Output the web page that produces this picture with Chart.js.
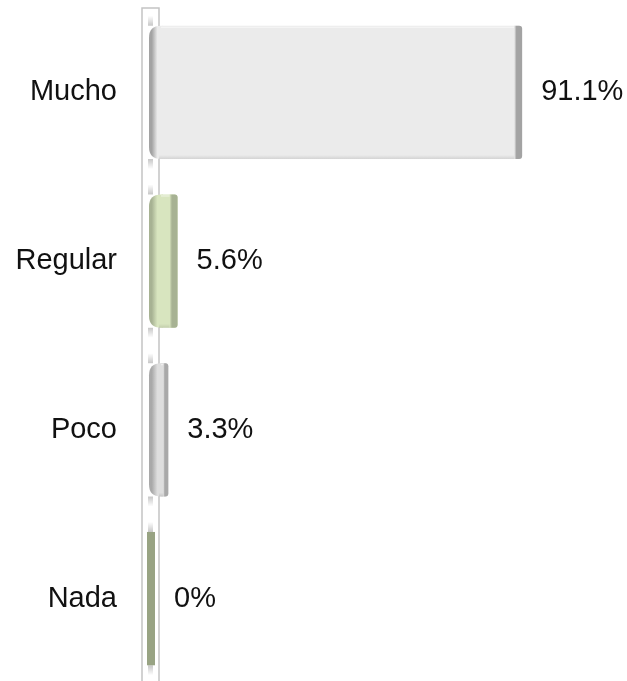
<!DOCTYPE html>
<html>
<head>
<meta charset="utf-8">
<script src="https://cdn.jsdelivr.net/npm/chart.js@4.4.0/dist/chart.umd.min.js"></script>
<style>
  html, body { margin: 0; padding: 0; background: #fff; overflow: hidden; }
  #wrap { width: 627px; height: 683px; }
</style>
</head>
<body>
<div id="wrap"><canvas id="chart" width="627" height="683"></canvas></div>
<script>
// Survey answers and their share of responses (%)
const categories = ["Mucho", "Regular", "Poco", "Nada"];
const percentages = [91.1, 5.6, 3.3, 0];

// Bar face / darker end colours
const faceColors = ["#ebebeb", "#d8e5bf", "#dedede", "#98a383"];
const edgeColors = ["#a3a3a3", "#a7b293", "#a9a9a9", "#98a383"];

const FONT = "'Liberation Sans', Arial, sans-serif";

function roundLeftRect(ctx, x, y, w, h, r) {
  ctx.beginPath();
  ctx.moveTo(x + r, y);
  ctx.lineTo(x + w, y);
  ctx.lineTo(x + w, y + h);
  ctx.lineTo(x + r, y + h);
  ctx.quadraticCurveTo(x, y + h, x, y + h - r);
  ctx.lineTo(x, y + r);
  ctx.quadraticCurveTo(x, y, x + r, y);
  ctx.closePath();
}

function roundRightRect(ctx, x, y, w, h, r) {
  ctx.beginPath();
  ctx.moveTo(x, y);
  ctx.lineTo(x + w - r, y);
  ctx.quadraticCurveTo(x + w, y, x + w, y + r);
  ctx.lineTo(x + w, y + h - r);
  ctx.quadraticCurveTo(x + w, y + h, x + w - r, y + h);
  ctx.lineTo(x, y + h);
  ctx.closePath();
}

// the thin "wall" behind the value axis, plus soft shadows above/below each bar
const wallPlugin = {
  id: "wall",
  beforeDatasetsDraw(chart) {
    const { ctx, chartArea } = chart;
    const x0 = chart.scales.x.getPixelForValue(0);
    const bottom = chart.height;
    ctx.save();
    ctx.strokeStyle = "#c4c4c4";
    ctx.lineWidth = 1.5;
    ctx.beginPath();
    ctx.moveTo(x0 - 13, bottom);
    ctx.lineTo(x0 - 13, chartArea.top);
    ctx.lineTo(x0 + 4, chartArea.top);
    ctx.lineTo(x0 + 4, bottom);
    ctx.stroke();

    chart.getDatasetMeta(0).data.forEach((bar) => {
      const top = bar.y - bar.height / 2;
      const bot = bar.y + bar.height / 2;
      let g = ctx.createLinearGradient(0, top - 10, 0, top);
      g.addColorStop(0, "rgba(0,0,0,0)");
      g.addColorStop(1, "rgba(0,0,0,0.22)");
      ctx.fillStyle = g;
      ctx.fillRect(x0 - 7, top - 10, 5, 10);
      g = ctx.createLinearGradient(0, bot, 0, bot + 10);
      g.addColorStop(0, "rgba(0,0,0,0.22)");
      g.addColorStop(1, "rgba(0,0,0,0)");
      ctx.fillStyle = g;
      ctx.fillRect(x0 - 7, bot, 5, 10);
    });
    ctx.restore();
  },
};

// rounded depth on the left and a darker cap on the right of every bar
const shadePlugin = {
  id: "shade",
  afterDatasetsDraw(chart) {
    const { ctx } = chart;
    ctx.save();
    chart.getDatasetMeta(0).data.forEach((bar, i) => {
      const base = bar.base;
      const w = bar.x - base;
      const h = bar.height;
      const top = bar.y - h / 2;
      const face = faceColors[i];
      const edge = edgeColors[i];

      if (w < 1) {
        ctx.fillStyle = edge;
        ctx.fillRect(base - 8, top, 8, h);
        return;
      }

      // left depth
      const lg = ctx.createLinearGradient(base - 6, 0, base + 8, 0);
      lg.addColorStop(0, edge);
      lg.addColorStop(0.2, edge);
      lg.addColorStop(0.6, face);
      lg.addColorStop(1, face);
      ctx.fillStyle = lg;
      roundLeftRect(ctx, base - 6, top, 14, h, Math.min(12, h / 2));
      ctx.fill();

      // right cap
      const capW = Math.min(8, w * 0.38);
      const rg = ctx.createLinearGradient(bar.x - capW, 0, bar.x, 0);
      rg.addColorStop(0, face);
      rg.addColorStop(0.3, edge);
      rg.addColorStop(1, edge);
      ctx.fillStyle = rg;
      roundRightRect(ctx, bar.x - capW, top, capW, h, 3);
      ctx.fill();

      // soft shading along the lower edge, highlight along the top
      const sg = ctx.createLinearGradient(0, top + h - 4, 0, top + h);
      sg.addColorStop(0, "rgba(0,0,0,0)");
      sg.addColorStop(1, "rgba(0,0,0,0.10)");
      ctx.fillStyle = sg;
      ctx.fillRect(base + 4, top + h - 4, w - capW - 4, 4);
      ctx.fillStyle = "rgba(255,255,255,0.6)";
      ctx.fillRect(base + 6, top + 1, w - capW - 6, 1);
    });
    ctx.restore();
  },
};

// percentage text to the right of each bar
const valueLabelPlugin = {
  id: "valueLabels",
  afterDatasetsDraw(chart) {
    const { ctx } = chart;
    ctx.save();
    ctx.font = `29px ${FONT}`;
    ctx.fillStyle = "#111";
    ctx.textAlign = "left";
    ctx.textBaseline = "middle";
    chart.getDatasetMeta(0).data.forEach((bar, i) => {
      ctx.fillText(`${percentages[i]}%`, bar.x + 19, bar.y);
    });
    ctx.restore();
  },
};

new Chart(document.getElementById("chart"), {
  type: "bar",
  data: {
    labels: categories,
    datasets: [
      {
        data: percentages,
        backgroundColor: faceColors,
        borderSkipped: false,
        borderRadius: { topLeft: 8, bottomLeft: 8, topRight: 3, bottomRight: 3 },
        categoryPercentage: 0.79,
        barPercentage: 1,
      },
    ],
  },
  options: {
    indexAxis: "y",
    responsive: false,
    animation: false,
    layout: { padding: { top: 8, right: 69, bottom: 0, left: 0 } },
    scales: {
      x: { min: 0, max: 100, display: false },
      y: {
        grid: { display: false, drawTicks: false },
        border: { display: false },
        ticks: {
          color: "#111",
          padding: 38,
          font: { family: FONT, size: 29 },
        },
        afterFit: (axis) => {
          axis.width = 155;
          axis.paddingTop = 0;
          axis.paddingBottom = 0;
        },
      },
    },
    plugins: {
      legend: { display: false },
      tooltip: { enabled: false },
    },
  },
  plugins: [wallPlugin, shadePlugin, valueLabelPlugin],
});
</script>
</body>
</html>
